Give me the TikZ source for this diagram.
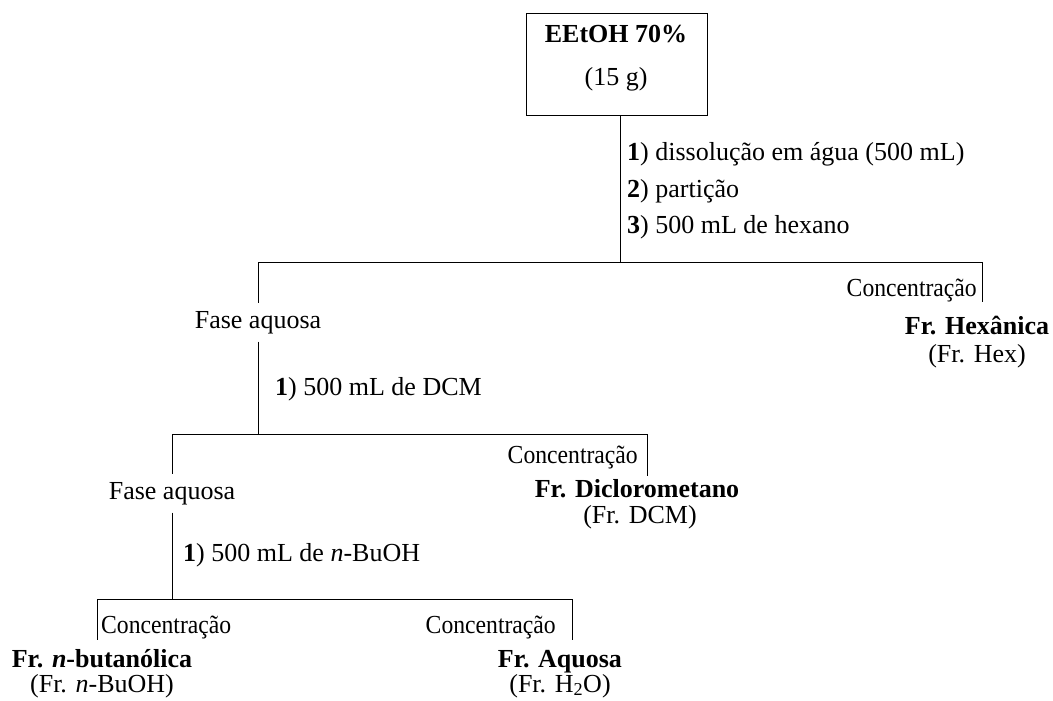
\documentclass[tikz,border=0pt]{standalone}
\usepackage{fontspec}
\setmainfont{Liberation Serif}
\begin{document}
\begin{tikzpicture}[x=1pt,y=-1pt,
  conn/.style={line width=0.9pt},
  lbl/.style={inner sep=0pt,font=\fontsize{26}{30}\selectfont},
  blbl/.style={lbl,font=\fontsize{26}{30}\selectfont\bfseries},
  phase/.style={lbl,anchor=base,outer ysep=8pt},
  conc/.style={lbl},
  ]
\newcommand{\conctext}{\scalebox{0.91}[1]{Concentração}}
\useasboundingbox (0,0) rectangle (1053,701);
% top box
\node[draw,line width=0.9pt,minimum width=181pt,minimum height=102pt,inner sep=0pt] (box) at (616.5,64) {};
\node[blbl,anchor=base] (title) at (616,43) {EEtOH 70\%};
\node[lbl,anchor=base] (mass) at (616,85) {(15 g)};
% steps
\node[lbl,anchor=base west] (s1) at (627,160) {\textbf{1}) dissolução em água (500 mL)};
\node[lbl,anchor=base west] (s2) at (627,197) {\textbf{2}) partição};
\node[lbl,anchor=base west] (s3) at (627,233) {\textbf{3}) 500 mL de hexano};
% junctions
\coordinate (j1) at (620,262);
\coordinate (a1) at (258,262);
\coordinate (b1) at (982,262);
\coordinate (c1) at (982,302);
\coordinate (j2) at (258,434);
\coordinate (a2) at (172,434);
\coordinate (b2) at (647,434);
\coordinate (c2) at (647,476);
\coordinate (j3) at (172,599);
\coordinate (a3) at (97,599);
\coordinate (b3) at (572,599);
\coordinate (c3) at (97,640);
\coordinate (c4) at (572,640);
% level 1
\node[phase] (fa1) at (258,328) {Fase aquosa};
\node[conc,anchor=base east] (k1) at (977,296) {\conctext};
\node[blbl,anchor=base] (h1) at (977,334) {Fr. Hexânica};
\node[lbl,anchor=base] (h2) at (977,362) {(Fr. Hex)};
\node[lbl,anchor=base west] (s4) at (275,395) {\textbf{1}) 500 mL de DCM};
% level 2
\node[phase] (fa2) at (172,499) {Fase aquosa};
\node[conc,anchor=base east] (k2) at (638,463) {\conctext};
\node[blbl,anchor=base] (d1) at (637,497) {Fr. Diclorometano};
\node[lbl,anchor=base] (d2) at (640,523) {(Fr. DCM)};
\node[lbl,anchor=base west] (s5) at (183,561) {\textbf{1}) 500 mL de \textit{n}-BuOH};
% level 3
\node[conc,anchor=base west] (k3) at (101,633) {\conctext};
\node[conc,anchor=base east] (k4) at (556,633) {\conctext};
\node[blbl,anchor=base] (n1) at (102,667) {Fr. \textit{n}-butanólica};
\node[lbl,anchor=base] (n2) at (102,692) {(Fr. \textit{n}-BuOH)};
\node[blbl,anchor=base] (w1) at (560,667) {Fr. Aquosa};
\node[lbl,anchor=base] (w2) at (560,692) {(Fr. H\textsubscript{2}O)};
% connectors
\draw[conn] (box.south -| j1) -- (j1);
\draw[conn] (a1) -- (b1);
\draw[conn] (a1) -- (fa1.north);
\draw[conn] (b1) -- (c1);
\draw[conn] (fa1.south) -- (j2);
\draw[conn] (a2) -- (b2);
\draw[conn] (a2) -- (fa2.north);
\draw[conn] (b2) -- (c2);
\draw[conn] (fa2.south) -- (j3);
\draw[conn] (a3) -- (b3);
\draw[conn] (a3) -- (c3);
\draw[conn] (b3) -- (c4);
\end{tikzpicture}
\end{document}
